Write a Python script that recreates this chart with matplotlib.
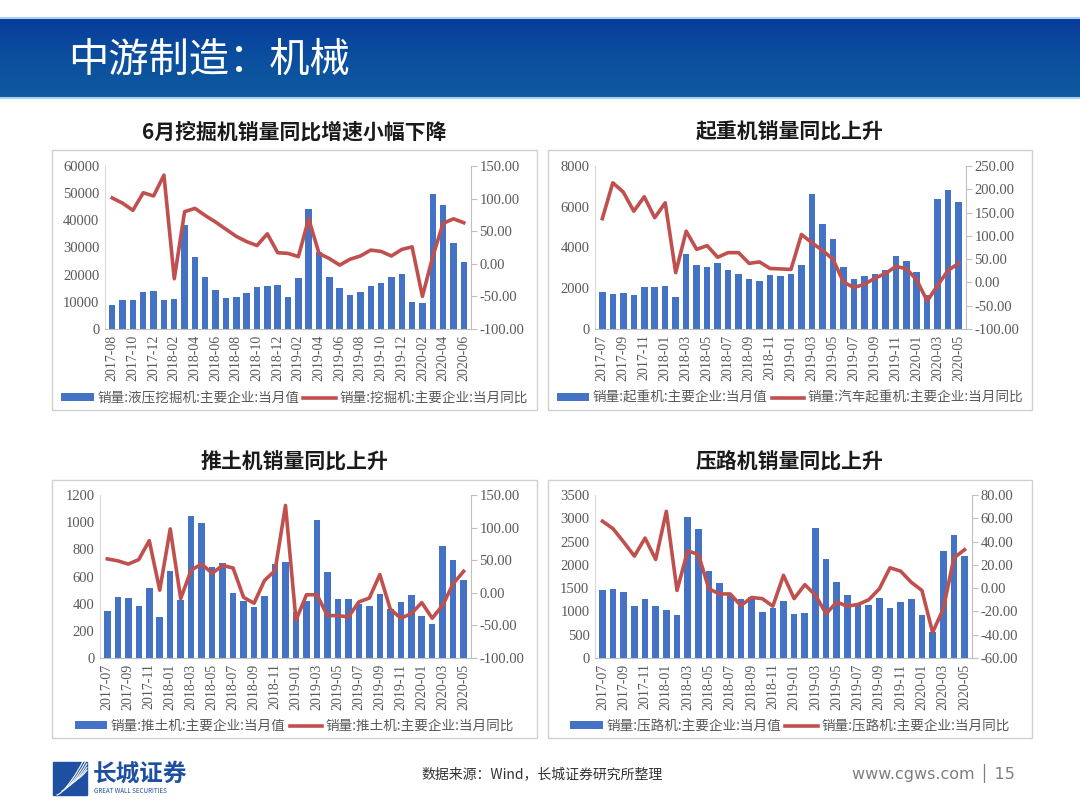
import numpy as np
import pandas as pd
import matplotlib
matplotlib.use("Agg")
import matplotlib.pyplot as plt
from matplotlib.patches import Rectangle, Patch
from matplotlib.lines import Line2D

plt.rcParams["font.family"] = ["Noto Sans CJK SC", "DejaVu Sans"]

W, H = 1080, 810
BLUE = "#4472c4"
RED = "#c0504d"
GREY = "#595959"
NUM_FONT = "Liberation Serif"

# ---- data ----
exc_months = pd.period_range("2017-08", "2020-06", freq="M").strftime("%Y-%m").tolist()
exc_sales = [8800, 10500, 10500, 13800, 14000, 10800, 11200, 38300, 26600, 19300,
             14200, 11300, 11700, 13300, 15300, 15900, 16100, 11900, 18800, 44300,
             28500, 19000, 15200, 12400, 13800, 15800, 17000, 19200, 20200, 9900,
             9400, 49600, 45500, 31800, 24700]
exc_yoy = [101, 93, 82, 109, 104, 136, -23, 80, 85, 74,
           64, 53, 42, 34, 28, 46, 17, 16, 11, 69,
           16, 8, -2, 7, 12, 21, 19, 12, 22, 26,
           -50, 11, 62, 69, 63]

oth_months = pd.period_range("2017-07", "2020-05", freq="M").strftime("%Y-%m").tolist()
crane_sales = [1810, 1700, 1750, 1650, 2070, 2040, 2120, 1550, 3670, 3120,
               3040, 3220, 2920, 2710, 2470, 2370, 2640, 2580, 2680, 3120,
               6640, 5160, 4410, 3050, 2470, 2610, 2680, 2890, 3560, 3360,
               2820, 1660, 6380, 6810, 6240]
crane_yoy = [137, 214, 194, 153, 184, 139, 171, 21, 110, 71,
             79, 54, 64, 64, 41, 44, 30, 29, 28, 103,
             85, 69, 50, 1, -11, -4, 9, 19, 34, 30,
             5, -40, -6, 26, 41]

dozer_sales = [344, 449, 439, 383, 515, 302, 638, 429, 1043, 991,
               672, 699, 478, 420, 373, 454, 690, 707, 339, 417,
               1014, 636, 432, 432, 400, 385, 474, 358, 410, 461,
               312, 253, 827, 719, 574]
dozer_yoy = [52, 49, 44, 51, 80, 4, 98, -9, 35, 44,
             30, 42, 38, -7, -16, 19, 34, 134, -42, -3,
             -3, -35, -35, -37, -14, -8, 28, -25, -39, -32,
             -15, -39, -19, 14, 33]

roller_sales = [1460, 1490, 1410, 1110, 1260, 1120, 1040, 930, 3020, 2780,
                1870, 1610, 1345, 1270, 1310, 990, 1070, 1220, 950, 960,
                2800, 2120, 1640, 1345, 1170, 1140, 1290, 1070, 1200, 1270,
                920, 550, 2290, 2650, 2180]
roller_yoy = [57.5, 51, 39.5, 27.5, 43, 24.6, 66, -2, 32, 29,
              -0.6, -5, -5, -15, -8, -9, -15.5, 11, -9, 3,
              -6, -22, -12, -15.5, -14, -10, -0.6, 17.5, 14.6, 5,
              -2, -38, -18, 26, 33]

fig = plt.figure(figsize=(W / 100, H / 100), dpi=100)
fig.patch.set_facecolor("white")

# ---- decoration layer in pixel coordinates ----
bg = fig.add_axes([0, 0, 1, 1], zorder=0)
bg.set_xlim(0, W)
bg.set_ylim(H, 0)
bg.axis("off")

grad = np.linspace(0, 1, 100)[:, None]
cmap = matplotlib.colors.LinearSegmentedColormap.from_list("hdr", ["#083c9c", "#0b4f9e", "#0f5aa0"])
bg.imshow(grad, extent=(0, W, 98, 18), cmap=cmap, aspect="auto", zorder=1)
bg.plot([0, W], [18, 18], color="#a9d2f2", lw=1.5, zorder=2)
bg.plot([0, W], [98, 98], color="#a9d2f2", lw=1.5, zorder=2)
bg.text(68, 60, "中游制造：机械", color="white", fontsize=29, fontweight="medium",
        va="center", ha="left", zorder=3)

panels = [
    dict(box=(52, 150, 537, 410), ax=(105, 166, 471, 329), title="6月挖掘机销量同比增速小幅下降",
         months=exc_months, bars=exc_sales, line=exc_yoy,
         ylim=(0, 60000), yticks=range(0, 60001, 10000), y2lim=(-100, 150), y2step=50,
         labels=("销量:液压挖掘机:主要企业:当月值", "销量:挖掘机:主要企业:当月同比")),
    dict(box=(548, 150, 1032, 410), ax=(595, 166, 966, 329), title="起重机销量同比上升",
         months=oth_months, bars=crane_sales, line=crane_yoy,
         ylim=(0, 8000), yticks=range(0, 8001, 2000), y2lim=(-100, 250), y2step=50,
         labels=("销量:起重机:主要企业:当月值", "销量:汽车起重机:主要企业:当月同比")),
    dict(box=(52, 480, 537, 738), ax=(100, 495, 471, 658), title="推土机销量同比上升",
         months=oth_months, bars=dozer_sales, line=dozer_yoy,
         ylim=(0, 1200), yticks=range(0, 1201, 200), y2lim=(-100, 150), y2step=50,
         labels=("销量:推土机:主要企业:当月值", "销量:推土机:主要企业:当月同比")),
    dict(box=(548, 480, 1032, 738), ax=(595, 495, 972, 658), title="压路机销量同比上升",
         months=oth_months, bars=roller_sales, line=roller_yoy,
         ylim=(0, 3500), yticks=range(0, 3501, 500), y2lim=(-60, 80), y2step=20,
         labels=("销量:压路机:主要企业:当月值", "销量:压路机:主要企业:当月同比")),
]

for p in panels:
    bx0, by0, bx1, by1 = p["box"]
    bg.add_patch(Rectangle((bx0, by0), bx1 - bx0, by1 - by0, fill=False,
                           edgecolor="#d0d0d0", lw=1, zorder=2))
    bg.text((bx0 + bx1) / 2, by0 - 18, p["title"], ha="center", va="center",
            fontsize=15, fontweight="bold", color="#1a1a1a", zorder=3)

    x0, y0, x1, y1 = p["ax"]
    ax = fig.add_axes([x0 / W, 1 - y1 / H, (x1 - x0) / W, (y1 - y0) / H], zorder=2)
    ax.set_facecolor("none")
    x = np.arange(len(p["bars"]))
    ax.bar(x, p["bars"], width=0.62, color=BLUE, zorder=2)
    ax.set_xlim(-0.7, len(x) - 0.3)
    ax.set_ylim(*p["ylim"])
    ax.set_yticks(list(p["yticks"]))
    ax.set_xticks(x[::2])
    ax.set_xticklabels(p["months"][::2], rotation=90, fontsize=10, family=NUM_FONT, color=GREY)
    for t in ax.get_yticklabels():
        t.set_fontsize(10.5)
        t.set_family(NUM_FONT)
        t.set_color(GREY)
    ax.tick_params(axis="both", length=0, pad=4)
    for s in ["top", "right"]:
        ax.spines[s].set_visible(False)
    ax.spines["left"].set_color("#d9d9d9")
    ax.spines["bottom"].set_color("#bfbfbf")

    ax2 = ax.twinx()
    ax2.plot(x, p["line"], color=RED, lw=2.6, zorder=3)
    lo, hi = p["y2lim"]
    ax2.set_ylim(lo, hi)
    ticks2 = np.arange(lo, hi + 0.1, p["y2step"])
    ax2.set_yticks(ticks2)
    ax2.set_yticklabels([f"{v:.2f}" for v in ticks2], fontsize=10.5, family=NUM_FONT, color=GREY)
    ax2.tick_params(axis="y", length=4, color="#bfbfbf", pad=2)
    for s in ["top", "left", "bottom"]:
        ax2.spines[s].set_visible(False)
    ax2.spines["right"].set_color("#bfbfbf")

    handles = [Patch(facecolor=BLUE, edgecolor="none"), Line2D([0], [0], color=RED, lw=2.6)]
    ax.legend(handles, p["labels"], loc="center", ncol=2, frameon=False,
              bbox_to_anchor=((bx0 + bx1) / 2 / W, 1 - (by1 - 12) / H),
              bbox_transform=fig.transFigure, fontsize=9.8, handlelength=2.4,
              handleheight=0.45, columnspacing=0.3, handletextpad=0.25,
              labelcolor=GREY)

# ---- footer ----
bg.add_patch(Rectangle((53, 762), 34, 33, color="#1f4fa0", zorder=2))
for k in range(5):
    xs = np.linspace(57 + k * 5, 87, 20)
    ys = 795 - (xs - xs[0]) ** 1.4 * 0.35 - k * 4
    bg.plot(xs, ys, color="white", lw=0.8, zorder=3)
bg.text(93, 774, "长城证券", fontsize=17, fontweight="bold", color="#1f4fa0", va="center", zorder=3)
bg.text(94, 791, "GREAT WALL SECURITIES", fontsize=4.5, color="#1f4fa0", va="center", zorder=3)
bg.text(542, 774, "数据来源：Wind，长城证券研究所整理", fontsize=10, color="#333333",
        ha="center", va="center", zorder=3)
bg.text(1015, 773, "www.cgws.com │ 15", fontsize=11.5, color="#7f7f7f",
        family=["DejaVu Sans"], ha="right", va="center", zorder=3)

fig.savefig("out.png", dpi=100)
